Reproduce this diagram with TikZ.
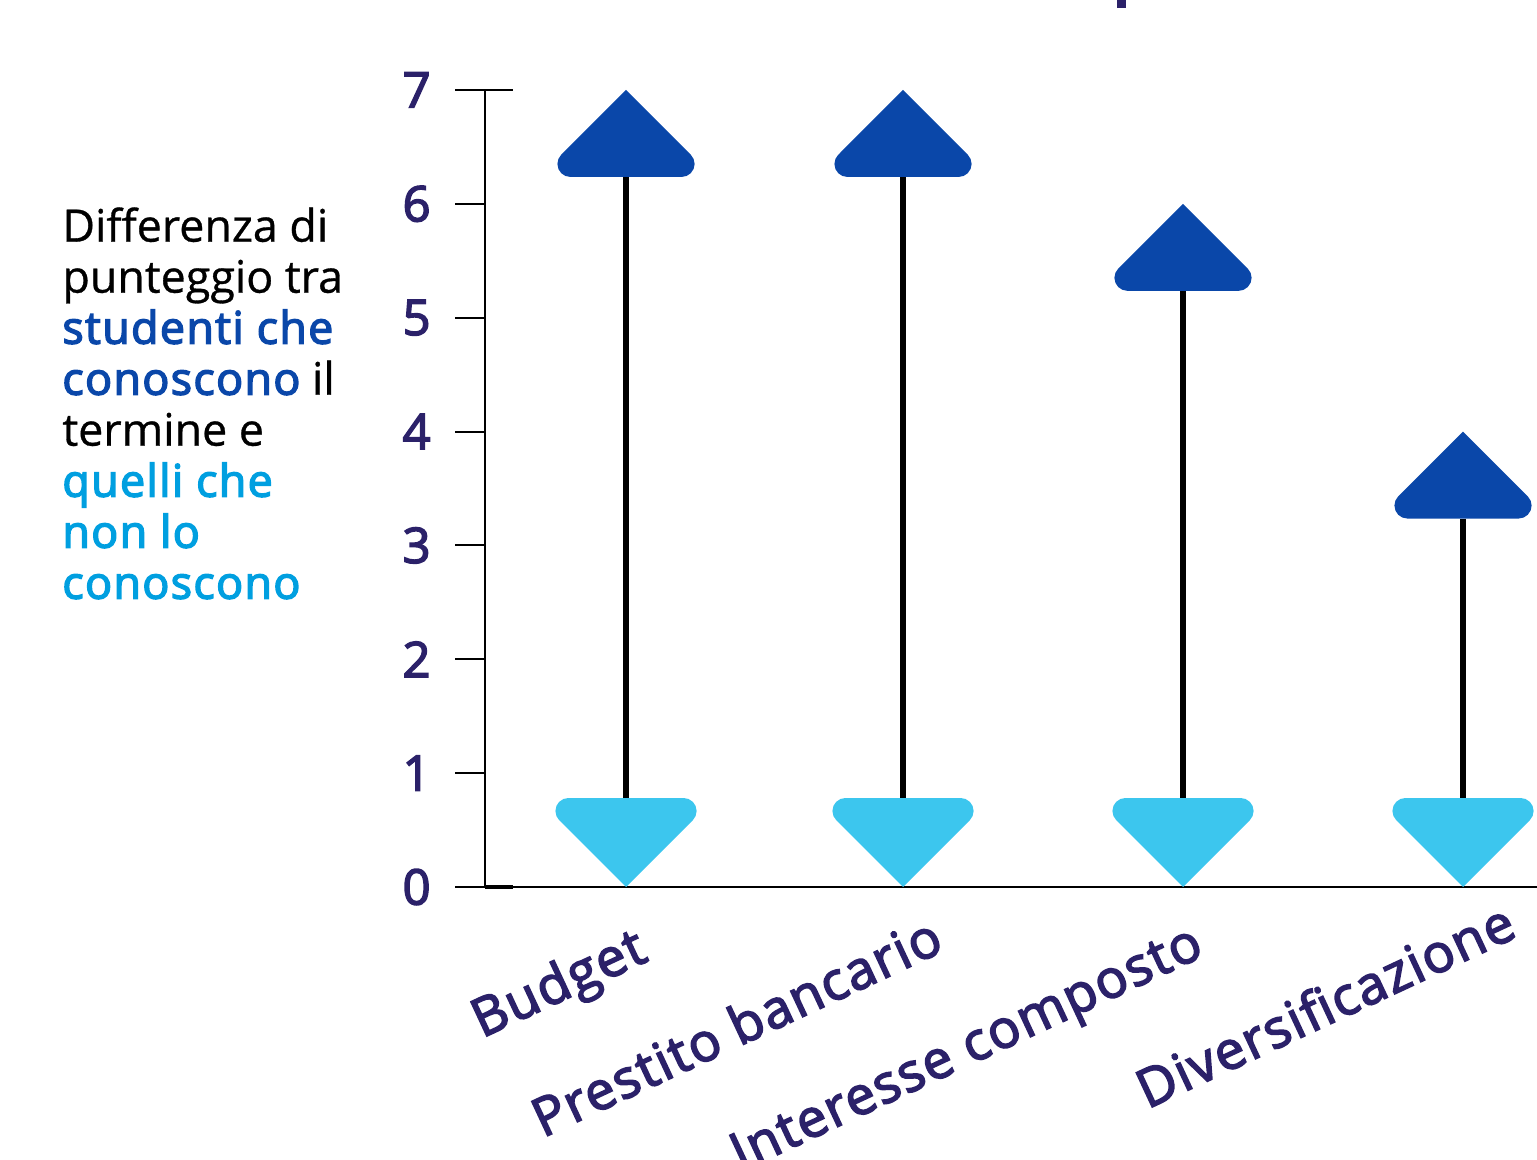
\documentclass[tikz,border=0pt]{standalone}
\usepackage{fontspec}
\setmainfont{Open Sans}[BoldFont={Open Sans}, BoldFeatures={FakeBold=3, LetterSpace=3}]
\newfontfamily\legendfont{Open Sans}[FakeBold=0.7, BoldFont={Open Sans}, BoldFeatures={FakeBold=3.2, LetterSpace=3}]
\usetikzlibrary{calc}
\definecolor{knowblue}{HTML}{0A47A9}
\definecolor{notknowblue}{HTML}{3CC6EE}
\definecolor{notknowtext}{HTML}{009FE0}
\definecolor{navy}{HTML}{2B2169}
% heads: height = half width, base corners rounded (r = 13)
\def\uphead(#1,#2){\fill[knowblue] (#1,#2) -- (#1+64.8,#2+64.8) arc[start angle=-45, end angle=90, radius=13] -- (#1-55.6,#2+87) arc[start angle=90, end angle=225, radius=13] -- cycle;}
\def\downhead(#1,#2){\fill[notknowblue] (#1,#2) -- (#1+66.8,#2-66.8) arc[start angle=45, end angle=-90, radius=13] -- (#1-57.6,#2-89) arc[start angle=-90, end angle=-225, radius=13] -- cycle;}

\begin{document}
\begin{tikzpicture}[x=0.5pt, y=-0.5pt,
		axis/.style={line width=1pt, black},
		stem/.style={line width=2.6pt, black},
		ticklabel/.style={anchor=east, inner sep=0pt, text=navy, font=\bfseries\fontsize{24.5}{24.5}\selectfont},
		catlabel/.style={anchor=base east, inner sep=0pt, rotate=25, text=navy, font=\bfseries\fontsize{26.5}{26.5}\selectfont},
		legend/.style={anchor=north west, inner sep=0pt, align=left, font=\legendfont\fontsize{22.4}{25.5}\selectfont}]
			%%%%% START %%%%%
			
			\useasboundingbox (0,0) rectangle (1537,1160);
			
			% piece of the title cut by the top edge
			\fill[navy] (1117,0) rectangle (1126,8);
			
			\node[legend] (legend) at (62,207) {Differenza di\\punteggio tra\\\textcolor{knowblue}{\bfseries studenti che}\\\textcolor{knowblue}{\bfseries conoscono} il\\termine e\\\textcolor{notknowtext}{\bfseries quelli che}\\\textcolor{notknowtext}{\bfseries non lo}\\\textcolor{notknowtext}{\bfseries conoscono}};
			
			% axes
			\draw[axis] (485,90) -- (485,887);
			\draw[axis] (455,887) -- (1537,887);
			\draw[axis] (455,90) -- (513,90);
			\draw[line width=1.6pt] (485,887) -- (513,887);
			\foreach \v in {0,...,7} {
				\pgfmathsetmacro\ty{887-113.86*\v}
				\draw[axis] (455,\ty) -- (485,\ty);
				\node[ticklabel] (tick\v) at (431,\ty) {\v};
			}
			
			% ranges
			\foreach \name/\x/\v/\lx/\ly/\txt in {budget/626/7/650/960/Budget, prestito/903/7/946/950/Prestito bancario, interesse/1183/6/1206/955/Interesse composto, divers/1463/4/1519/936/Diversificazione} {
				\pgfmathsetmacro\tip{887-113.86*\v}
				\coordinate (top-\name) at (\x,\tip+87);
				\coordinate (bot-\name) at (\x,798);
				\draw[stem] (top-\name) -- (bot-\name);
				\uphead(\x,\tip)
				\downhead(\x,887)
				\node[catlabel] (lab-\name) at (\lx,\ly) {\txt};
			}
			
			%%%%% END %%%%%
\end{tikzpicture}
\end{document}
